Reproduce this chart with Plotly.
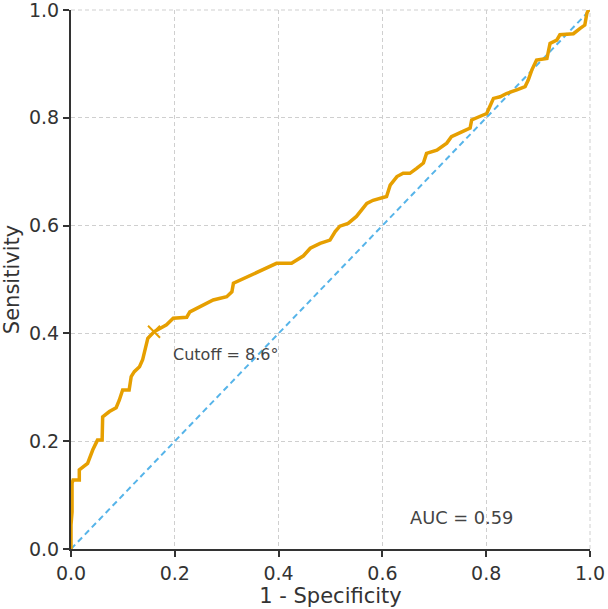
import plotly.graph_objects as go

fpr = [0, 0, 0.002, 0.002, 0.004, 0.016, 0.016, 0.032, 0.042, 0.051, 0.060, 0.061, 0.074, 0.087, 0.093,
       0.0995, 0.112, 0.116, 0.122, 0.132, 0.138, 0.145, 0.148, 0.160, 0.171, 0.184, 0.197, 0.223, 0.229,
       0.249, 0.261, 0.274, 0.30, 0.31, 0.313, 0.326, 0.345, 0.371, 0.396, 0.425, 0.448, 0.461, 0.480,
       0.499, 0.509, 0.518, 0.534, 0.550, 0.560, 0.570, 0.582, 0.608, 0.615, 0.628, 0.640, 0.653, 0.666,
       0.679, 0.685, 0.705, 0.724, 0.733, 0.753, 0.769, 0.772, 0.791, 0.801, 0.807, 0.814, 0.827, 0.839,
       0.859, 0.875, 0.881, 0.888, 0.897, 0.917, 0.923, 0.936, 0.942, 0.968, 0.981, 0.990, 0.994, 0.997, 1.0]
tpr = [0, 0.045, 0.069, 0.122, 0.128, 0.128, 0.147, 0.159, 0.184, 0.202, 0.202, 0.245, 0.255, 0.262, 0.276,
       0.295, 0.295, 0.320, 0.329, 0.338, 0.351, 0.375, 0.391, 0.403, 0.409, 0.416, 0.428, 0.43, 0.44,
       0.45, 0.456, 0.462, 0.468, 0.477, 0.493, 0.499, 0.506, 0.518, 0.530, 0.530, 0.544, 0.558, 0.567,
       0.573, 0.589, 0.599, 0.604, 0.617, 0.629, 0.641, 0.647, 0.654, 0.675, 0.691, 0.697, 0.697, 0.706,
       0.716, 0.734, 0.740, 0.753, 0.765, 0.774, 0.781, 0.796, 0.803, 0.808, 0.821, 0.836, 0.839, 0.845,
       0.852, 0.858, 0.870, 0.889, 0.907, 0.910, 0.938, 0.944, 0.954, 0.956, 0.966, 0.972, 0.994, 1.0, 1.0]

chance_x = [0, 1]
chance_y = [0, 1]

cutoff_x = [0.160]
cutoff_y = [0.403]
cutoff_label = "Cutoff = 8.6°"
auc_label = "AUC = 0.59"

tick_vals = [0, 0.2, 0.4, 0.6, 0.8, 1.0]
tick_text = ["0.0", "0.2", "0.4", "0.6", "0.8", "1.0"]

ORANGE = "#E69F00"
BLUE = "#56B4E9"
FONT = "DejaVu Sans"
GRID = "#cfcfcf"

fig = go.Figure()
fig.add_trace(go.Scatter(x=chance_x, y=chance_y, mode="lines",
                         line=dict(color=BLUE, width=2, dash="6px,4px"), showlegend=False))
fig.add_trace(go.Scatter(x=fpr, y=tpr, mode="lines",
                         line=dict(color=ORANGE, width=3.5), showlegend=False))
fig.add_trace(go.Scatter(x=cutoff_x, y=cutoff_y, mode="markers",
                         marker=dict(symbol="x-thin", size=12, line=dict(color=ORANGE, width=2)),
                         showlegend=False))

fig.add_annotation(x=0.193, y=0.36, text=cutoff_label, showarrow=False, xanchor="left", yanchor="middle",
                   font=dict(family=FONT, size=16, color="#444"))
fig.add_annotation(x=0.649, y=0.058, text=auc_label, showarrow=False, xanchor="left", yanchor="middle",
                   font=dict(family=FONT, size=17.8, color="#444"))

# edge gridlines (top and right), drawn as dashed lines like the interior grid
fig.add_shape(type="line", xref="paper", yref="paper", x0=0, x1=1, y0=1, y1=1,
              line=dict(color=GRID, width=1, dash="4px,3px"), layer="below")
fig.add_shape(type="line", xref="paper", yref="paper", x0=1, x1=1, y0=0, y1=1,
              line=dict(color=GRID, width=1, dash="4px,3px"), layer="below")

axis_common = dict(range=[0, 1], tickvals=tick_vals, ticktext=tick_text,
                   showgrid=True, gridcolor=GRID, griddash="4px,3px", gridwidth=1,
                   showline=True, linecolor="#333", linewidth=2,
                   ticks="outside", ticklen=6, tickwidth=2, tickcolor="#333",
                   tickfont=dict(family=FONT, size=19, color="#333"),
                   ticklabeloverflow="allow",
                   zeroline=False, automargin=False)

fig.update_layout(
    width=608, height=609,
    margin=dict(l=71, r=18, t=10, b=60, autoexpand=False),
    paper_bgcolor="white", plot_bgcolor="white",
    xaxis=dict(title=dict(text="1 - Specificity", font=dict(family=FONT, size=21, color="#333"), standoff=6),
               **axis_common),
    yaxis=dict(title=dict(text="Sensitivity", font=dict(family=FONT, size=21, color="#333"), standoff=6),
               **axis_common),
)

fig.write_html("out.html")
